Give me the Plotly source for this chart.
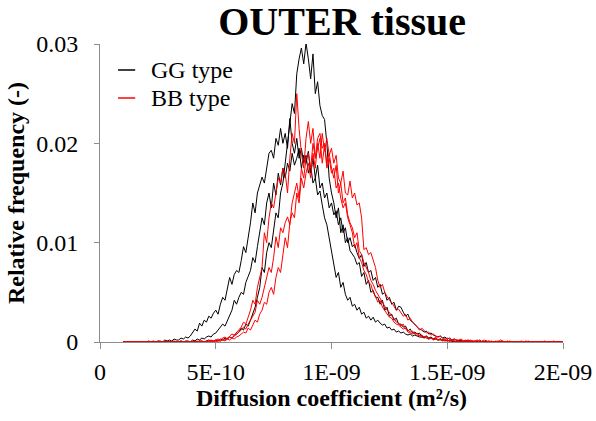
import numpy as np
import plotly.graph_objects as go

# Relative frequency values in units of 1e-4, bins every 1e-11 m2/s starting at 1e-10
gg_run1 = [
    0,0,0,0,0,0,0,0,0,0,
    0,0,0,0,0,0,0,0,0,0,
    0,0,0,0,0,1,0,0,0,0,
    0,1,0,1,1,0,1,2,1,1,
    2,1,3,2,4,3,5,4,6,8,
    10,14,12,18,16,22,28,35,45,55,
    75,70,90,100,95,115,130,125,150,160,
    180,200,215,240,230,270,285,296,280,301,
    285,265,290,250,262,238,228,224,200,165,
    150,140,125,135,110,118,100,105,92,88,
    85,78,80,66,70,58,62,50,52,45,
    45,38,42,32,35,26,28,22,24,18,
    18,15,16,11,13,9,10,8,9,6,
    5,6,4,5,3,4,2,3,2,2,
    1,2,1,1,0,1,1,0,1,0,
    0,1,0,0,0,0,0,0,0,0,
    0,0,0,0,0,0,0,0,0,0,
    0,0,0,0,0,0,0,0,0,0,
    0,0,0,0,0,0,0,0,0,0,
    0]
gg_run2 = [
    0,0,0,0,0,0,0,0,0,0,
    0,1,0,1,0,1,1,0,2,1,
    2,1,3,2,2,4,3,5,4,6,
    10,13,11,19,16,22,20,26,24,29,
    32,28,38,45,42,55,65,58,68,72,
    70,82,96,90,105,120,140,130,150,158,
    166,160,175,190,193,185,205,198,215,200,
    210,195,225,200,190,205,185,195,180,188,
    170,178,160,165,148,152,138,125,118,105,
    95,82,65,70,55,60,48,42,45,36,
    38,32,35,28,30,24,26,22,25,20,
    22,19,17,18,14,15,12,13,10,11,
    9,10,8,7,8,6,7,6,5,5,
    4,5,3,4,3,3,2,3,2,1,
    2,1,1,0,1,0,1,0,0,1,
    0,0,0,1,0,0,0,0,0,0,
    0,0,0,0,0,0,0,0,0,0,
    0,0,0,0,0,0,0,0,0,0,
    0,0,0,0,0,0,0,0,0,0,
    0]
gg_run3 = [
    0,0,0,0,0,0,0,0,0,0,
    0,0,0,0,0,0,0,0,0,0,
    0,0,1,0,0,1,0,1,1,0,
    2,1,3,2,4,3,5,6,5,8,
    9,12,14,18,16,22,28,32,42,38,
    45,50,48,60,66,72,85,80,96,110,
    125,118,140,150,135,160,148,170,158,175,
    165,180,172,190,178,185,195,175,188,180,
    192,170,185,165,178,155,160,145,150,135,
    140,128,132,118,125,110,115,100,105,96,
    98,90,84,88,76,80,70,72,62,65,
    55,58,48,50,42,45,38,40,32,36,
    35,30,26,28,22,20,18,15,13,12,
    10,11,8,9,7,6,5,6,4,5,
    3,4,2,3,2,1,2,1,1,2,
    1,0,1,0,2,0,0,1,0,0,
    0,0,1,0,0,0,0,0,0,0,
    0,0,0,0,0,0,0,0,0,0,
    0,0,0,0,0,0,0,0,0,0,
    0]
bb_run1 = [
    0,0,0,0,0,0,0,0,0,0,
    0,0,0,0,0,0,0,0,0,0,
    0,0,0,0,0,0,0,0,0,0,
    0,0,1,0,1,0,1,1,2,1,
    2,3,2,4,5,3,6,8,7,10,
    12,15,20,18,25,32,42,38,55,65,
    75,110,100,125,140,135,150,165,160,175,
    170,150,185,210,200,250,215,190,175,205,
    222,200,215,185,205,210,195,200,180,190,
    175,165,178,150,160,140,145,128,120,115,
    105,110,92,88,80,75,70,62,58,52,
    48,45,40,36,32,30,26,24,20,19,
    16,18,13,12,10,11,8,9,6,7,
    5,6,4,4,3,5,2,3,2,2,
    2,1,2,1,1,0,1,1,0,1,
    0,1,0,0,1,0,0,0,1,0,
    0,0,0,0,0,0,1,0,0,0,
    0,0,0,0,0,0,0,0,0,0,
    0,0,0,0,0,0,0,0,0,0,
    0]
bb_run2 = [
    0,0,0,0,0,0,0,0,0,0,
    0,0,0,0,0,0,0,0,0,0,
    0,0,0,0,0,0,0,0,0,0,
    0,0,0,0,0,0,0,0,0,0,
    0,1,1,2,1,3,2,4,3,5,
    6,8,10,9,14,12,18,22,20,28,
    32,40,38,50,55,48,65,75,70,90,
    105,95,120,130,125,150,140,165,155,170,
    180,165,190,175,200,185,210,192,205,188,
    195,180,188,165,160,172,150,148,162,145,
    150,138,140,125,93,95,88,90,82,75,
    62,55,58,50,46,42,40,36,32,33,
    30,26,28,22,24,20,18,15,12,14,
    11,9,10,7,8,6,5,6,4,3,
    4,3,2,3,2,2,3,1,2,1,
    2,1,1,2,0,1,2,1,0,1,
    0,1,0,2,1,0,0,1,0,0,
    0,0,1,0,0,1,0,0,0,0,
    0,0,1,0,0,0,1,0,0,0,
    0]
bb_run3 = [
    0,0,0,0,0,0,0,0,0,0,
    0,0,0,0,0,0,0,0,0,0,
    0,0,0,0,0,0,0,0,0,0,
    0,0,0,1,0,0,1,0,1,0,
    1,2,1,3,2,4,5,4,7,8,
    10,12,15,13,18,22,25,30,42,38,
    45,55,62,75,70,85,106,95,115,110,
    120,126,118,140,150,160,145,175,165,185,
    190,175,200,185,195,205,180,198,175,185,
    170,175,155,160,145,135,140,125,118,110,
    95,100,85,80,72,68,60,58,50,46,
    40,42,35,32,28,25,24,20,18,17,
    15,13,14,10,9,8,9,6,7,5,
    5,4,3,4,2,3,2,2,1,2,
    1,1,2,0,1,0,1,0,0,1,
    0,0,0,1,0,0,0,0,1,0,
    0,0,0,0,0,0,0,0,0,0,
    0,0,0,0,1,0,0,0,0,0,
    0,0,0,0,0,0,0,0,0,0,
    0]

x_tick_vals = [0, 5e-10, 1e-9, 1.5e-9, 2e-9]
x_tick_text = ["0", "5E-10", "1E-09", "1.5E-09", "2E-09"]
y_tick_vals = [0, 0.01, 0.02, 0.03]
y_tick_text = ["0", "0.01", "0.02", "0.03"]
legend_names = ["GG type", "BB type"]
legend_colors = ["#000000", "#ff0000"]

series = [
    ("GG type", "#000000", gg_run1),
    ("GG type", "#000000", gg_run2),
    ("GG type", "#000000", gg_run3),
    ("BB type", "#ff0000", bb_run1),
    ("BB type", "#ff0000", bb_run2),
    ("BB type", "#ff0000", bb_run3),
]

fig = go.Figure()
for name, color, vals in series:
    v = np.array(vals, dtype=float) * 1e-4
    xs = 1e-10 + 1e-11 * np.arange(len(v))
    fig.add_trace(go.Scatter(
        x=xs, y=v, mode="lines", name=name, showlegend=False,
        line=dict(color=color, width=1)))

font_family = "Liberation Serif, Times New Roman, serif"

# legend drawn inside the plot, top-left
shapes = []
annotations = []
for i, (nm, col) in enumerate(zip(legend_names, legend_colors)):
    yp = 0.9128 - i * 0.094
    shapes.append(dict(type="line", xref="paper", yref="paper",
                       x0=0.039, x1=0.076, y0=yp, y1=yp,
                       line=dict(color=col, width=1.5)))
    annotations.append(dict(text=nm, xref="paper", yref="paper",
                            x=0.106, y=yp, xanchor="left", yanchor="middle",
                            showarrow=False, font=dict(size=24)))

fig.update_layout(
    width=596, height=421,
    margin=dict(l=100, r=33, t=44, b=79, autoexpand=False),
    paper_bgcolor="white", plot_bgcolor="white",
    font=dict(family=font_family, size=24, color="black"),
    title=dict(text="<b>OUTER tissue</b>", font=dict(size=40, family=font_family),
               x=0.523, xanchor="center", xref="paper",
               y=0.983, yanchor="top", yref="container", automargin=False),
    showlegend=False,
    shapes=shapes,
    annotations=annotations,
    xaxis=dict(range=[0, 2e-9], tickvals=x_tick_vals, ticktext=x_tick_text,
               automargin=False, ticklabelstandoff=2,
               showgrid=False, zeroline=False, showline=True, linecolor="#8c8c8c",
               linewidth=1, ticks="outside", ticklen=6, tickcolor="#8c8c8c",
               title=dict(text="<b>Diffusion coefficient (m²/s)</b>",
                          font=dict(size=24), standoff=4)),
    yaxis=dict(range=[0, 0.03], tickvals=y_tick_vals, ticktext=y_tick_text,
               automargin=False, ticklabelstandoff=11,
               showgrid=False, zeroline=False, showline=True, linecolor="#8c8c8c",
               linewidth=1, ticks="outside", ticklen=5, tickcolor="#8c8c8c",
               title=dict(text="<b>Relative frequency (-)</b>",
                          font=dict(size=24), standoff=4)),
)

fig.write_html("out.html", config={"displayModeBar": False},
               post_script="document.body.style.margin='0px';")
